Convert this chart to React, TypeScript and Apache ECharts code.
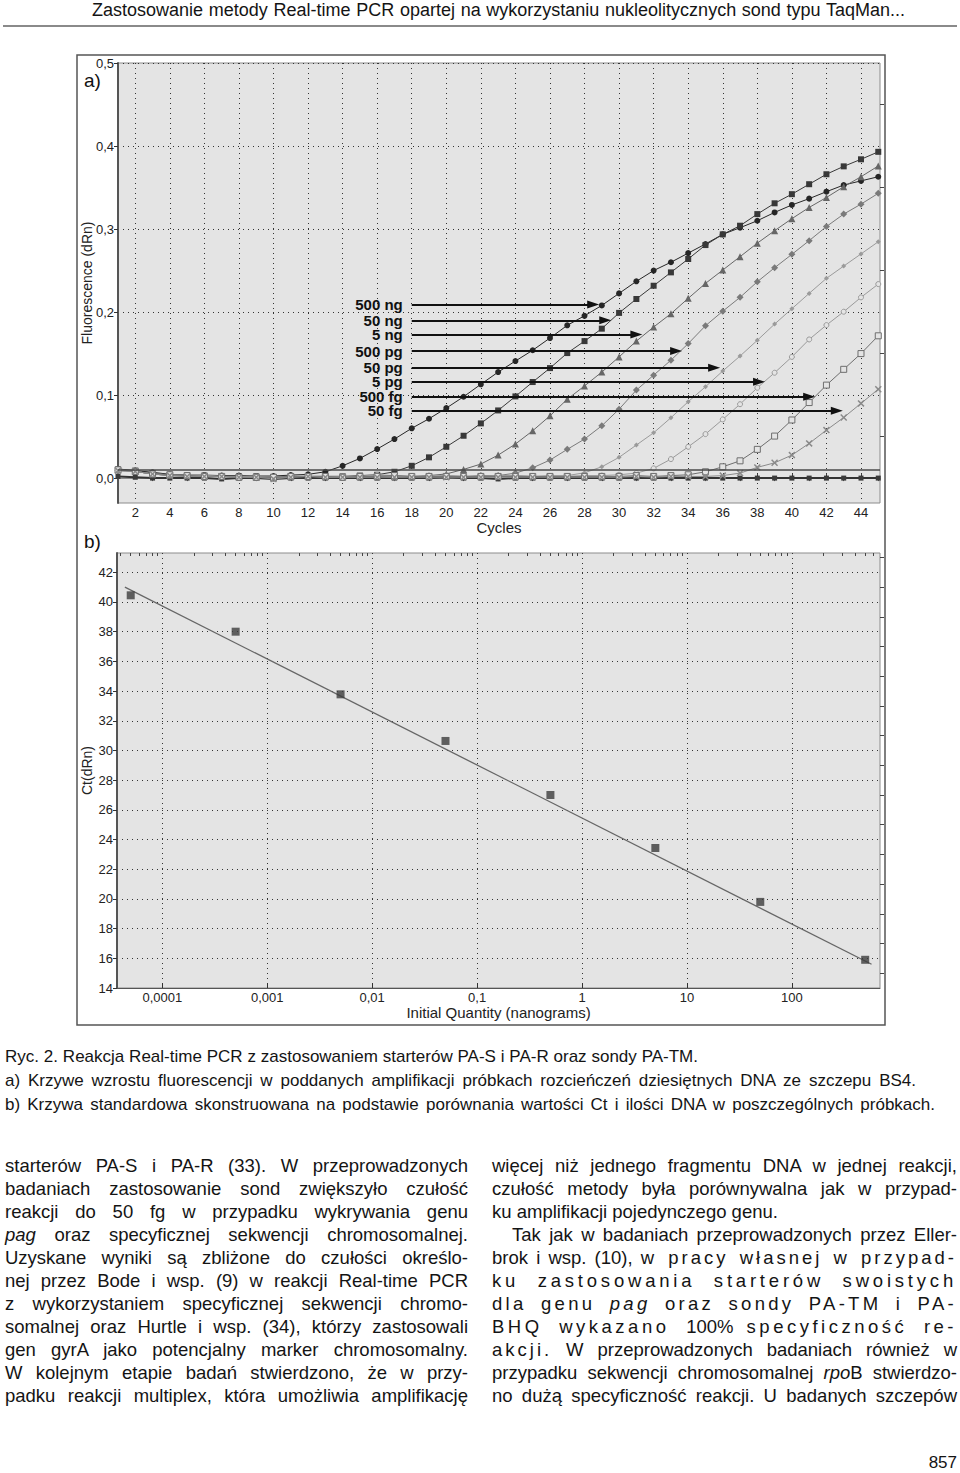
import React, { useEffect, useRef } from "react";
import * as echarts from "echarts";

const FONT = '"Liberation Sans", Arial, Helvetica, sans-serif';

// ---------- Chart a data ----------
const cycles = [1,2,3,4,5,6,7,8,9,10,11,12,13,14,15,16,17,18,19,20,21,22,23,24,25,26,27,28,29,30,31,32,33,34,35,36,37,38,39,40,41,42,43,44,45];
const evenCycleTicks = [2,4,6,8,10,12,14,16,18,20,22,24,26,28,30,32,34,36,38,40,42,44];
const oddCycleTicks = [3,5,7,9,11,13,15,17,19,21,23,25,27,29,31,33,35,37,39,41,43,45];
const fluorTicks = [0, 0.1, 0.2, 0.3, 0.4, 0.5];
const fluorMinorTicks = [0.05, 0.15, 0.25, 0.35, 0.45];

const sampleNames = ["500 ng", "50 ng", "5 ng", "500 pg", "50 pg", "5 pg", "500 fg", "50 fg"];

const s500ng = [0.011,0.009,0.007,0.0045,0.0036,0.0036,0.003,0.003,0.0025,0.0025,0.0036,0.0045,0.0076,0.0148,0.0237,0.035,0.047,0.060,0.0715,0.0843,0.098,0.113,0.1277,0.141,0.154,0.1687,0.184,0.1955,0.208,0.2225,0.237,0.250,0.260,0.271,0.282,0.2936,0.3016,0.310,0.320,0.329,0.3366,0.345,0.353,0.358,0.363];
const s50ng = [0.010,0.009,0.006,0.004,0.003,0.003,0.002,0.002,0.002,0.001,0.002,0.002,0.002,0.002,0.003,0.004,0.0076,0.0148,0.025,0.0377,0.051,0.0659,0.0815,0.0984,0.1157,0.1325,0.1506,0.165,0.180,0.199,0.2157,0.2317,0.2478,0.2639,0.2807,0.2936,0.304,0.318,0.331,0.342,0.354,0.366,0.3755,0.384,0.393];
const s5ng = [0.010,0.008,0.005,0.003,0.003,0.002,0.002,0.002,0.001,0.001,0.002,0.002,0.002,0.002,0.002,0.003,0.002,0.002,0.003,0.005,0.0105,0.0169,0.0277,0.041,0.057,0.075,0.095,0.111,0.1277,0.146,0.165,0.182,0.198,0.2165,0.2345,0.2506,0.2667,0.283,0.298,0.3125,0.326,0.338,0.351,0.363,0.376];
const s500pg = [0.009,0.008,0.005,0.003,0.002,0.002,0.002,0.001,0.001,0.0,0.001,0.002,0.002,0.002,0.001,0.002,0.001,0.002,0.002,0.002,0.002,0.003,0.003,0.006,0.0124,0.0217,0.0346,0.047,0.063,0.083,0.106,0.124,0.142,0.162,0.1835,0.201,0.2177,0.2365,0.2534,0.2695,0.286,0.303,0.318,0.330,0.343];
const s50pg = [0.010,0.008,0.005,0.004,0.003,0.003,0.002,0.002,0.001,0.001,0.002,0.002,0.001,0.002,0.002,0.003,0.002,0.002,0.002,0.003,0.002,0.002,0.003,0.003,0.002,0.003,0.003,0.0064,0.0136,0.025,0.0398,0.0546,0.0727,0.092,0.110,0.129,0.147,0.166,0.1855,0.204,0.2225,0.2406,0.2554,0.270,0.2847];
const s5pg = [0.009,0.008,0.005,0.004,0.003,0.003,0.002,0.002,0.002,0.001,0.002,0.002,0.002,0.002,0.002,0.004,0.003,0.002,0.002,0.003,0.002,0.002,0.002,0.003,0.002,0.002,0.002,0.003,0.003,0.004,0.006,0.0117,0.0229,0.0377,0.053,0.0707,0.089,0.1088,0.1269,0.146,0.167,0.1843,0.2004,0.2177,0.2337];
const s500fg = [0.010,0.008,0.005,0.004,0.003,0.002,0.002,0.001,0.001,0.001,0.002,0.002,0.002,0.001,0.002,0.002,0.003,0.002,0.002,0.002,0.002,0.002,0.002,0.002,0.002,0.002,0.002,0.002,0.002,0.002,0.003,0.002,0.003,0.004,0.0076,0.0136,0.0208,0.0346,0.0506,0.070,0.091,0.112,0.131,0.150,0.1714];
const s50fg = [0.009,0.008,0.005,0.003,0.002,0.002,0.002,0.001,0.001,-0.001,0.001,0.002,0.001,0.001,0.001,0.001,0.001,0.001,0.001,0.001,0.001,0.001,0.001,0.001,0.001,0.001,0.001,0.001,0.001,0.001,0.002,0.001,0.002,0.002,0.002,0.003,0.006,0.0129,0.0184,0.0277,0.0418,0.0578,0.073,0.090,0.107];
const ntc = [0.002,0.001,0.0,0.0,0.0,0.0,-0.001,0.0,0.0,-0.001,0.0,0.0,0.0,0.0,0.0,0.0,0.0,0.0,0.0,0.001,0.0,0.0,-0.001,0.0,0.0,0.0,0.0,0.0,0.0,0.0,0.0,0.0,0.0,0.0,0.0,0.0,0.0,0.0,0.0,0.0,0.0,0.0,0.0,0.0,0.0];
const curves = [s500ng, s50ng, s5ng, s500pg, s50pg, s5pg, s500fg, s50fg];

const threshold = 0.0105;
const arrowStartCycle = 18;
const arrowLevels = [0.209, 0.190, 0.173, 0.153, 0.133, 0.116, 0.098, 0.081];
const arrowEndCycles = [28.5, 29.2, 31.0, 33.3, 35.5, 38.1, 41.0, 42.6];

// ---------- Chart b data ----------
const quantityNg = [0.00005, 0.0005, 0.005, 0.05, 0.5, 5, 50, 500];
const ctValues = [40.45, 38.0, 33.78, 30.64, 27.0, 23.43, 19.8, 15.9];
const fitQuantity = [0.000044, 575];
const fitCt = [41.0, 15.6];
const qtyTicks = [0.0001, 0.001, 0.01, 0.1, 1, 10, 100];
const qtyTickLabels = ["0,0001", "0,001", "0,01", "0,1", "1", "10", "100"];
const ctTicks = [14,16,18,20,22,24,26,28,30,32,34,36,38,40,42];
const ctMinorTicks = [15,17,19,21,23,25,27,29,31,33,35,37,39,41,43];

const X_PATH = "path://M0 1.5L1.5 0L5 3.5L8.5 0L10 1.5L6.5 5L10 8.5L8.5 10L5 6.5L1.5 10L0 8.5L3.5 5Z";
const curveStyles = [
  { symbol: "circle", size: 6, color: "#262626", fill: "#262626" },
  { symbol: "rect", size: 6, color: "#383838", fill: "#383838" },
  { symbol: "triangle", size: 7, color: "#666666", fill: "#666666" },
  { symbol: "diamond", size: 7, color: "#7a7a7a", fill: "#7a7a7a" },
  { symbol: "diamond", size: 5, color: "#9a9a9a", fill: "#9a9a9a" },
  { symbol: "circle", size: 5, color: "#9a9a9a", fill: "#e4e4e4" },
  { symbol: "rect", size: 6, color: "#6e6e6e", fill: "#e4e4e4" },
  { symbol: X_PATH, size: 7, color: "#8a8a8a", fill: "#8a8a8a" },
];

const minorLogTicks: number[] = [];
[-5, -4, -3, -2, -1, 0, 1, 2].forEach((d) => {
  [2, 3, 4, 5, 6, 7, 8, 9].forEach((m) => {
    const v = m * Math.pow(10, d);
    if (v > 3.8e-5 && v < 690) minorLogTicks.push(v);
  });
});

const fmtComma = (v: number) => v.toFixed(1).replace(".", ",");
const fmtQty = (v: number) => {
  const i = qtyTicks.findIndex((t) => Math.abs(Math.log10(t) - Math.log10(v)) < 1e-6);
  return i >= 0 ? qtyTickLabels[i] : "";
};

// ---------- Page text ----------
type Seg = { t: string; i?: boolean; ls?: number };
const leftCol: Seg[][] = [
  [{ t: "starterów PA-S i PA-R (33). W przeprowadzonych" }],
  [{ t: "badaniach zastosowanie sond zwiększyło czułość" }],
  [{ t: "reakcji do 50 fg w przypadku wykrywania genu" }],
  [{ t: "pag", i: true }, { t: " oraz specyficznej sekwencji chromosomalnej." }],
  [{ t: "Uzyskane wyniki są zbliżone do czułości określo-" }],
  [{ t: "nej przez Bode i wsp. (9) w reakcji Real-time PCR" }],
  [{ t: "z wykorzystaniem specyficznej sekwencji chromo-" }],
  [{ t: "somalnej oraz Hurtle i wsp. (34), którzy zastosowali" }],
  [{ t: "gen gyrA jako potencjalny marker chromosomalny." }],
  [{ t: "W kolejnym etapie badań stwierdzono, że w przy-" }],
  [{ t: "padku reakcji multiplex, która umożliwia amplifikację" }],
];
const rightCol: Seg[][] = [
  [{ t: "więcej niż jednego fragmentu DNA w jednej reakcji," }],
  [{ t: "czułość metody była porównywalna jak w przypad-" }],
  [{ t: "ku amplifikacji pojedynczego genu." }],
  [{ t: "Tak jak w badaniach przeprowadzonych przez Eller-" }],
  [{ t: "brok i wsp. (10), " }, { t: "w pracy własnej w przypad-", ls: 3 }],
  [{ t: "ku zastosowania starterów swoistych", ls: 3.8 }],
  [{ t: "dla genu ", ls: 3.3 }, { t: "pag", i: true, ls: 3.3 }, { t: " oraz sondy PA-TM i PA-", ls: 3.3 }],
  [{ t: "BHQ wykazano ", ls: 3.5 }, { t: "100% " }, { t: "specyficzność re-", ls: 3.5 }],
  [{ t: "akcji.", ls: 3 }, { t: " W przeprowadzonych badaniach również w" }],
  [{ t: "przypadku sekwencji chromosomalnej " }, { t: "rpo", i: true }, { t: "B stwierdzo-" }],
  [{ t: "no dużą specyficzność reakcji. U badanych szczepów" }],
];
const captionLines = [
  "Ryc. 2. Reakcja Real-time PCR z zastosowaniem starterów PA-S i PA-R oraz sondy PA-TM.",
  "a) Krzywe wzrostu fluorescencji w poddanych amplifikacji próbkach rozcieńczeń dziesiętnych DNA ze szczepu BS4.",
  "b) Krzywa standardowa skonstruowana na podstawie porównania wartości Ct i ilości DNA w poszczególnych próbkach.",
];

function TextLine(props: { segs: Seg[]; left: number; top: number; width: number; size: number; lh: number; justify: boolean }) {
  const { segs, left, top, width, size, lh, justify } = props;
  return (
    <div
      style={{
        position: "absolute", left, top, width, height: lh, lineHeight: lh + "px", fontSize: size,
        whiteSpace: "nowrap", textAlign: justify ? "justify" : "left",
        textAlignLast: justify ? "justify" : "left", color: "#141414",
      } as React.CSSProperties}
    >
      {segs.map((s, k) => (
        <span key={k} style={{ fontStyle: s.i ? "italic" : "normal", letterSpacing: s.ls ? s.ls + "px" : undefined }}>{s.t}</span>
      ))}
    </div>
  );
}

export default function App() {
  const ref = useRef<HTMLDivElement>(null);

  useEffect(() => {
    if (!ref.current) return;
    const chart = echarts.init(ref.current, null, { renderer: "svg" });

    const gridLine = { show: true, lineStyle: { color: "#333", width: 1, type: [1, 4] as any } };
    const labelStyle = { color: "#222", fontSize: 13, fontFamily: FONT };
    const nameStyle = { fontSize: 15, color: "#222", fontFamily: FONT };
    const yNameStyle = { fontSize: 14, color: "#222", fontFamily: FONT };

    const curveSeries = curves.map((vals, k) => {
      const st = curveStyles[k];
      return {
        name: sampleNames[k],
        type: "line",
        xAxisIndex: 0,
        yAxisIndex: 0,
        data: cycles.map((c, i) => [c, vals[i]]),
        symbol: st.symbol,
        symbolSize: st.size,
        showAllSymbol: true,
        lineStyle: { color: st.color, width: 1 },
        itemStyle: { color: st.fill, borderColor: st.color, borderWidth: st.fill === st.color ? 0 : 1 },
        z: 3,
      };
    });

    const option: any = {
      animation: false,
      textStyle: { fontFamily: FONT },
      graphic: [
        { type: "rect", shape: { x: 77, y: 55, width: 808, height: 970 }, style: { fill: "none", stroke: "#555", lineWidth: 1.5 }, z: 10 },
        { type: "text", x: 84, y: 71, style: { text: "a)", fontSize: 19, fill: "#111", fontFamily: FONT }, z: 10 },
        { type: "text", x: 84, y: 532, style: { text: "b)", fontSize: 19, fill: "#111", fontFamily: FONT }, z: 10 },
      ],
      grid: [
        { left: 118, top: 63, width: 762, height: 440, show: true, backgroundColor: "#e4e4e4", borderColor: "#8c8c8c", borderWidth: 1 },
        { left: 117, top: 553, width: 763, height: 435, show: true, backgroundColor: "#e4e4e4", borderColor: "#8c8c8c", borderWidth: 1 },
      ],
      xAxis: [
        {
          gridIndex: 0, type: "value", min: 1, max: 45.1,
          axisLine: { show: true, lineStyle: { color: "#8c8c8c" } },
          axisTick: { show: true, inside: true, length: 4, customValues: evenCycleTicks, lineStyle: { color: "#333" } },
          axisLabel: { ...labelStyle, margin: 3, customValues: evenCycleTicks, formatter: (v: number) => String(v) },
          splitLine: gridLine,
          name: "Cycles", nameLocation: "middle", nameGap: 14, nameTextStyle: nameStyle,
        },
        {
          gridIndex: 0, type: "value", min: 1, max: 45.1,
          axisLine: { show: false },
          axisTick: { show: true, inside: true, length: 3, customValues: oddCycleTicks, lineStyle: { color: "#555" } },
          axisLabel: { show: false },
          splitLine: { show: false },
        },
        {
          gridIndex: 1, type: "log", logBase: 10, min: 0.000037, max: 692,
          axisLine: { show: true, lineStyle: { color: "#555" } },
          axisTick: { show: true, inside: true, length: 5, customValues: qtyTicks, lineStyle: { color: "#333" } },
          axisLabel: { ...labelStyle, margin: 3, customValues: qtyTicks, formatter: fmtQty },
          splitLine: gridLine,
          name: "Initial Quantity (nanograms)", nameLocation: "middle", nameGap: 15, nameTextStyle: nameStyle,
        },
        {
          gridIndex: 1, type: "log", logBase: 10, min: 0.000037, max: 692,
          axisLine: { show: false },
          axisTick: { show: true, inside: true, length: 3, customValues: minorLogTicks, lineStyle: { color: "#444" } },
          axisLabel: { show: false },
          splitLine: { show: false },
        },
      ],
      yAxis: [
        {
          gridIndex: 0, type: "value", min: -0.03, max: 0.5,
          axisLine: { show: true, lineStyle: { color: "#555", width: 2 } },
          axisTick: { show: true, length: 4, customValues: fluorTicks, lineStyle: { color: "#333" } },
          axisLabel: { ...labelStyle, margin: 4, customValues: fluorTicks, formatter: fmtComma },
          splitLine: gridLine,
          name: "Fluorescence (dRn)", nameLocation: "middle", nameGap: 24, nameRotate: 90,
          nameMoveOverlap: false, nameTextStyle: yNameStyle,
        },
        {
          gridIndex: 0, type: "value", min: -0.03, max: 0.5,
          axisLine: { show: false },
          axisTick: { show: true, length: 4, customValues: fluorMinorTicks, lineStyle: { color: "#444" } },
          axisLabel: { show: false },
          splitLine: { show: false },
        },
        {
          gridIndex: 1, type: "value", min: 14, max: 43.3,
          axisLine: { show: true, lineStyle: { color: "#555", width: 2 } },
          axisTick: { show: true, length: 4, customValues: ctTicks, lineStyle: { color: "#333" } },
          axisLabel: { ...labelStyle, margin: 4, customValues: ctTicks, formatter: (v: number) => String(v) },
          splitLine: gridLine,
          name: "Ct(dRn)", nameLocation: "middle", nameGap: 23, nameRotate: 90,
          nameMoveOverlap: false, nameTextStyle: yNameStyle,
        },
        {
          gridIndex: 1, type: "value", min: 14, max: 43.3,
          axisLine: { show: false },
          axisTick: { show: true, length: 4, customValues: ctMinorTicks, lineStyle: { color: "#444" } },
          axisLabel: { show: false },
          splitLine: { show: false },
        },
      ],
      series: [
        {
          name: "NTC", type: "line", xAxisIndex: 0, yAxisIndex: 0,
          data: cycles.map((c, i) => [c, ntc[i]]),
          symbol: "rect", symbolSize: 5, showAllSymbol: true,
          lineStyle: { color: "#333", width: 2 }, itemStyle: { color: "#3a3a3a" }, z: 2,
          markLine: {
            silent: true, symbol: ["none", "none"], label: { show: false },
            lineStyle: { color: "#4a4a4a", width: 1.5, type: "solid" },
            data: [{ yAxis: threshold }],
          },
        },
        ...curveSeries,
        {
          name: "arrows", type: "line", xAxisIndex: 0, yAxisIndex: 0, data: [], z: 5,
          markLine: {
            silent: true, symbol: ["none", "triangle"], symbolSize: [8, 12],
            lineStyle: { color: "#111", width: 2, type: "solid" },
            label: { show: true, position: "start", distance: 9, formatter: "{b}", fontSize: 15, fontWeight: "bold", color: "#111", fontFamily: FONT, lineHeight: 14 },
            data: arrowLevels.map((y, k) => [
              { name: sampleNames[k], coord: [arrowStartCycle, y] },
              { coord: [arrowEndCycles[k], y] },
            ]),
          },
        },
        {
          name: "Standard", type: "line", xAxisIndex: 2, yAxisIndex: 2,
          data: fitQuantity.map((q, i) => [q, fitCt[i]]),
          showSymbol: false, lineStyle: { color: "#666", width: 1.3 }, z: 3,
        },
        {
          name: "Samples", type: "scatter", xAxisIndex: 2, yAxisIndex: 2,
          data: quantityNg.map((q, i) => [q, ctValues[i]]),
          symbol: "rect", symbolSize: 8, itemStyle: { color: "#3c3c3c" }, z: 4,
        },
      ],
    };

    chart.setOption(option);
    return () => chart.dispose();
  }, []);

  return (
    <div style={{ position: "absolute", left: 0, top: 0, width: 960, height: 1473, background: "#fff", overflow: "hidden", fontFamily: FONT }}>
      <div ref={ref} style={{ position: "absolute", left: 0, top: 0, width: 960, height: 1473 }} />
      <TextLine segs={[{ t: "Zastosowanie metody Real-time PCR opartej na wykorzystaniu nukleolitycznych sond typu TaqMan..." }]} left={92} top={0} width={813} size={18} lh={20} justify={true} />
      <div style={{ position: "absolute", left: 3, top: 25, width: 954, height: 2, background: "#8a8a8a" }} />
      {captionLines.map((c, k) => (
        <TextLine key={"c" + k} segs={[{ t: c }]} left={5} top={1045 + k * 24} width={[693, 911, 930][k]} size={17} lh={24} justify={true} />
      ))}
      {leftCol.map((segs, k) => (
        <TextLine key={"l" + k} segs={segs} left={5} top={1154 + k * 23} width={463} size={18.5} lh={23} justify={true} />
      ))}
      {rightCol.map((segs, k) => (
        <TextLine key={"r" + k} segs={segs} left={k === 3 ? 512 : 492} top={1154 + k * 23} width={k === 3 ? 445 : 465} size={18.5} lh={23} justify={k !== 2} />
      ))}
      <div style={{ position: "absolute", left: 880, top: 1452, width: 77, height: 22, lineHeight: "22px", fontSize: 17, textAlign: "right", color: "#141414" }}>857</div>
    </div>
  );
}
